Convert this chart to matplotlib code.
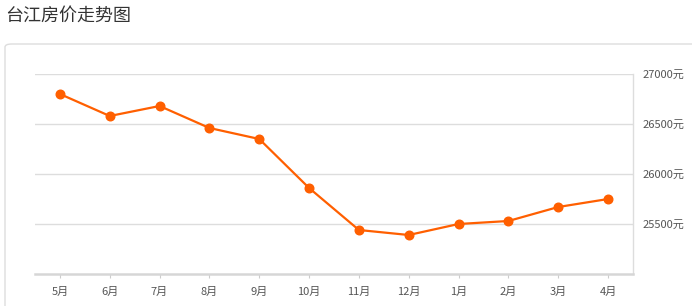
import matplotlib
matplotlib.use("Agg")
import matplotlib.pyplot as plt
from matplotlib.patches import FancyBboxPatch

plt.rcParams['font.family'] = ['Noto Sans CJK SC', 'DejaVu Sans']

# data
months = ["5月", "6月", "7月", "8月", "9月", "10月", "11月", "12月", "1月", "2月", "3月", "4月"]
prices = [26800, 26580, 26680, 26460, 26350, 25860, 25440, 25390, 25500, 25530, 25670, 25750]
yticks = [25500, 26000, 26500, 27000]

W, H = 692, 306
fig = plt.figure(figsize=(W / 100, H / 100), dpi=100)

# title
fig.text(5 / W, 1 - 16 / H, "台江房价走势图", fontsize=13, color="#333333", va="center", ha="left")

# card border (behind the axes)
card = FancyBboxPatch((5 / W, -0.2), 1.2, 1 - 44 / H + 0.2, boxstyle="round,pad=0,rounding_size=0.01",
                      transform=fig.transFigure, facecolor="white", edgecolor="#dddddd",
                      linewidth=1, zorder=-5)
fig.patches.append(card)

ax = fig.add_axes([35 / W, (H - 274) / H, (633 - 35) / W, 200 / H])
ax.set_zorder(5)
ax.set_facecolor("none")
x = list(range(len(months)))
ax.plot(x, prices, color="#ff5f00", linewidth=1.6, marker="o", markersize=6.2, zorder=3)

ax.set_xlim(-0.5, len(months) - 0.5)
ax.set_ylim(25000, 27000)
ax.set_xticks(x)
ax.set_xticklabels(months, fontsize=8, color="#555555")
ax.set_yticks(yticks)
ax.set_yticklabels([str(v) + "元" for v in yticks], fontsize=8, color="#555555")
ax.yaxis.tick_right()
ax.tick_params(axis="y", length=0, pad=7)
ax.tick_params(axis="x", length=3, color="#cccccc", pad=6)
ax.grid(axis="y", color="#dddddd", linewidth=1)
ax.set_axisbelow(True)

for s in ["top", "left"]:
    ax.spines[s].set_visible(False)
ax.spines["bottom"].set_color("#d6d6d6")
ax.spines["bottom"].set_linewidth(1.8)
ax.spines["right"].set_color("#dddddd")
ax.spines["right"].set_linewidth(1)

fig.savefig("out.png", dpi=100)
